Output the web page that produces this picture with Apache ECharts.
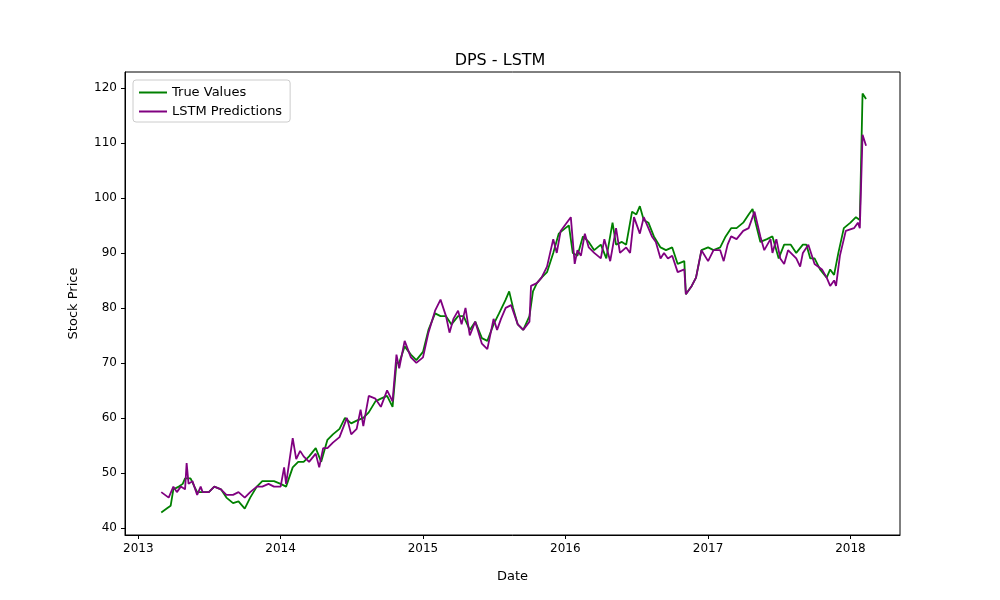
<!DOCTYPE html>
<html><head><meta charset="utf-8">
<script src="https://cdn.jsdelivr.net/npm/echarts@6/dist/echarts.min.js"></script>
<style>html,body{margin:0;padding:0;background:#fff}#c{width:1000px;height:600px}</style>
</head><body><div id="c"></div>
<script>
const trueValues = [
["2013-03-01",42.8],["2013-03-15",43.5],["2013-03-25",44],["2013-04-01",47],["2013-04-15",47.5],["2013-04-25",48],
["2013-05-01",49],["2013-05-15",49],["2013-05-25",47.5],["2013-06-01",46.5],["2013-06-15",46.5],["2013-07-01",46.5],
["2013-07-15",47.5],["2013-08-01",47],["2013-08-15",45.5],["2013-09-01",44.5],["2013-09-15",44.8],["2013-10-01",43.5],
["2013-10-15",45.5],["2013-11-01",47.5],["2013-11-15",48.5],["2013-12-01",48.5],["2013-12-15",48.5],["2014-01-01",48],
["2014-01-15",47.5],["2014-02-01",51],["2014-02-15",52],["2014-03-01",52],["2014-03-15",53],["2014-04-01",54.5],
["2014-04-15",52],["2014-05-01",56],["2014-05-15",57],["2014-06-01",58],["2014-06-15",60],["2014-07-01",59],
["2014-07-15",59.5],["2014-08-01",60],["2014-08-15",61],["2014-09-01",63],["2014-09-15",63.5],["2014-10-01",64],
["2014-10-15",62],["2014-10-25",70],["2014-11-01",70],["2014-11-15",73],["2014-12-01",71.5],["2014-12-15",70.5],
["2015-01-01",72],["2015-01-15",76],["2015-02-01",79],["2015-02-15",78.5],["2015-03-01",78.5],["2015-03-15",77],
["2015-04-01",78.5],["2015-04-15",78.5],["2015-05-01",76],["2015-05-15",77.5],["2015-06-01",74.5],["2015-06-15",74],
["2015-07-01",77],["2015-07-15",79],["2015-08-01",81.5],["2015-08-10",83],["2015-08-20",80],["2015-09-01",77],
["2015-09-15",76],["2015-10-01",78.5],["2015-10-10",83],["2015-10-20",84.5],["2015-11-01",85.5],["2015-11-15",86.5],
["2015-12-01",90],["2015-12-15",93.5],["2016-01-01",94.5],["2016-01-10",95],["2016-01-20",90],["2016-02-01",89.5],
["2016-02-15",93],["2016-03-01",92],["2016-03-15",90.5],["2016-04-01",91.5],["2016-04-15",89],["2016-05-01",95.5],
["2016-05-10",91.5],["2016-05-25",92],["2016-06-05",91.5],["2016-06-20",97.5],["2016-07-01",97],["2016-07-10",98.5],
["2016-07-20",96],["2016-08-01",95.5],["2016-08-15",93],["2016-09-01",91],["2016-09-15",90.5],["2016-10-01",91],
["2016-10-15",88],["2016-11-01",88.5],["2016-11-05",82.5],["2016-11-20",84],["2016-12-01",85.5],["2016-12-15",90.5],
["2017-01-01",91],["2017-01-15",90.5],["2017-02-01",91],["2017-02-15",93],["2017-03-01",94.5],["2017-03-15",94.5],
["2017-04-01",95.5],["2017-04-15",97],["2017-04-25",98],["2017-05-01",96],["2017-05-15",92],["2017-06-01",92.5],
["2017-06-15",93],["2017-07-01",89],["2017-07-15",91.5],["2017-08-01",91.5],["2017-08-15",90],["2017-09-01",91.5],
["2017-09-10",91.5],["2017-09-20",89],["2017-10-01",89],["2017-10-15",87],["2017-11-01",85.5],["2017-11-10",87],
["2017-11-20",86],["2017-12-01",90],["2017-12-15",94.5],["2018-01-01",95.5],["2018-01-15",96.5],["2018-01-25",96],
["2018-02-01",119],["2018-02-10",118]
];
const lstmPredictions = [
["2013-03-01",46.5],["2013-03-20",45.5],["2013-04-01",47.5],["2013-04-10",46.5],["2013-04-20",47.5],["2013-05-01",47],
["2013-05-05",51.8],["2013-05-10",48],["2013-05-20",48.5],["2013-06-01",46],["2013-06-10",47.5],["2013-06-15",46.5],
["2013-07-01",46.5],["2013-07-15",47.5],["2013-08-01",47],["2013-08-15",46],["2013-09-01",46],["2013-09-15",46.5],
["2013-10-01",45.5],["2013-10-15",46.5],["2013-11-01",47.5],["2013-11-15",47.5],["2013-12-01",48],["2013-12-15",47.5],
["2014-01-01",47.5],["2014-01-10",51],["2014-01-15",48],["2014-02-01",56.3],["2014-02-10",52.5],["2014-02-20",54],
["2014-03-01",53],["2014-03-15",52],["2014-04-01",53.5],["2014-04-10",51],["2014-04-20",54.5],["2014-05-01",54.5],
["2014-05-15",55.5],["2014-06-01",56.5],["2014-06-20",60],["2014-07-01",57],["2014-07-15",58],["2014-07-25",61.5],
["2014-08-01",58.5],["2014-08-15",64],["2014-09-01",63.5],["2014-09-15",62],["2014-10-01",65],["2014-10-15",63],
["2014-10-25",71.5],["2014-11-01",69],["2014-11-15",74],["2014-12-01",71],["2014-12-15",70],["2015-01-01",71],
["2015-01-15",75.5],["2015-02-01",79.5],["2015-02-15",81.5],["2015-03-01",78.5],["2015-03-10",75.5],["2015-03-20",78],
["2015-04-01",79.5],["2015-04-10",77],["2015-04-20",80],["2015-05-01",75],["2015-05-15",77.5],["2015-06-01",73.5],
["2015-06-15",72.5],["2015-07-01",78],["2015-07-10",76],["2015-07-20",78],["2015-08-01",80],["2015-08-15",80.5],
["2015-09-01",77],["2015-09-15",76],["2015-10-01",77.5],["2015-10-05",84],["2015-10-20",84.5],["2015-11-01",85.5],
["2015-11-15",87.5],["2015-12-01",92.5],["2015-12-10",90],["2015-12-20",94],["2016-01-15",96.5],["2016-01-25",88],
["2016-02-01",90.5],["2016-02-10",89.5],["2016-02-20",93.5],["2016-03-01",91],["2016-03-15",90],["2016-04-01",89],
["2016-04-10",92.5],["2016-04-25",88.5],["2016-05-10",94.5],["2016-05-20",90],["2016-06-05",91],["2016-06-15",90],
["2016-06-25",96.5],["2016-07-10",93.5],["2016-07-20",96.5],["2016-08-01",94.5],["2016-08-10",93],["2016-08-20",92],
["2016-09-01",89],["2016-09-10",90],["2016-09-20",89],["2016-10-01",89.5],["2016-10-15",86.5],["2016-11-01",87],
["2016-11-05",82.5],["2016-11-20",84],["2016-12-01",85.5],["2016-12-15",90.5],["2017-01-01",88.5],["2017-01-15",90.5],
["2017-02-01",90.5],["2017-02-10",88.5],["2017-02-20",91.5],["2017-03-01",93],["2017-03-15",92.5],["2017-04-01",94],
["2017-04-15",94.5],["2017-04-30",97.5],["2017-05-15",93],["2017-05-25",90.5],["2017-06-10",92.5],["2017-06-15",90],
["2017-06-25",92.5],["2017-07-05",89],["2017-07-15",88],["2017-07-25",90.5],["2017-08-15",89],["2017-08-25",87.5],
["2017-09-01",90],["2017-09-15",91.5],["2017-10-01",88],["2017-10-20",87],["2017-11-01",85.5],["2017-11-10",84],
["2017-11-20",85],["2017-11-25",84],["2017-12-05",89.5],["2017-12-20",94],["2018-01-10",94.5],["2018-01-20",95.5],
["2018-01-25",94.5],["2018-02-01",111.5],["2018-02-10",109.5]
];
const yearTicks = ["2013-01-01","2014-01-01","2015-01-01","2016-01-01","2017-01-01","2018-01-01"];
const priceTicks = [40,50,60,70,80,90,100,110,120];

const ts = d => Date.parse(d + "T00:00:00Z");
const toPts = arr => arr.map(([d, v]) => [ts(d), v]);
const yearTs = yearTicks.map(ts);

const chart = echarts.init(document.getElementById("c"));
const txt = { color: "#000", fontFamily: "DejaVu Sans", fontSize: 12 };
chart.setOption({
  animation: false,
  backgroundColor: "#fff",
  title: { text: "DPS - LSTM", left: "center", top: 48,
    textStyle: { color: "#000", fontFamily: "DejaVu Sans", fontSize: 16, fontWeight: "normal" } },
  grid: { left: 125, right: 100, top: 72, bottom: 65, show: true, borderColor: "#000", borderWidth: 1 },
  legend: {
    left: 133, top: 80, orient: "vertical", itemGap: 6, itemWidth: 28, itemHeight: 2,
    backgroundColor: "#fff", borderColor: "#ccc", borderWidth: 1, borderRadius: 3, padding: [6, 8, 4, 6],
    textStyle: { color: "#000", fontFamily: "DejaVu Sans", fontSize: 13 },
    data: [{ name: "True Values", icon: "rect" }, { name: "LSTM Predictions", icon: "rect" }]
  },
  xAxis: {
    type: "value", min: ts("2012-11-28"), max: ts("2018-05-08"),
    name: "Date", nameLocation: "middle", nameGap: 35,
    nameTextStyle: { color: "#000", fontFamily: "DejaVu Sans", fontSize: 13 },
    axisLine: { lineStyle: { color: "#000" } },
    axisTick: { show: true, length: 4, lineStyle: { color: "#000" }, customValues: yearTs },
    axisLabel: { ...txt, customValues: yearTs, formatter: v => String(new Date(v).getUTCFullYear()) },
    splitLine: { show: false }
  },
  yAxis: {
    type: "value", min: 38.7, max: 122.9,
    name: "Stock Price", nameLocation: "middle", nameGap: 45,
    nameTextStyle: { color: "#000", fontFamily: "DejaVu Sans", fontSize: 13 },
    axisLine: { show: true, lineStyle: { color: "#000" } },
    axisTick: { show: true, length: 4, lineStyle: { color: "#000" }, customValues: priceTicks },
    axisLabel: { ...txt, customValues: priceTicks },
    splitLine: { show: false }
  },
  series: [
    { name: "True Values", type: "line", data: toPts(trueValues), showSymbol: false, color: "#008000", lineStyle: { width: 1.8 } },
    { name: "LSTM Predictions", type: "line", data: toPts(lstmPredictions), showSymbol: false, color: "#800080", lineStyle: { width: 1.8 } }
  ]
});
</script>
</body></html>
